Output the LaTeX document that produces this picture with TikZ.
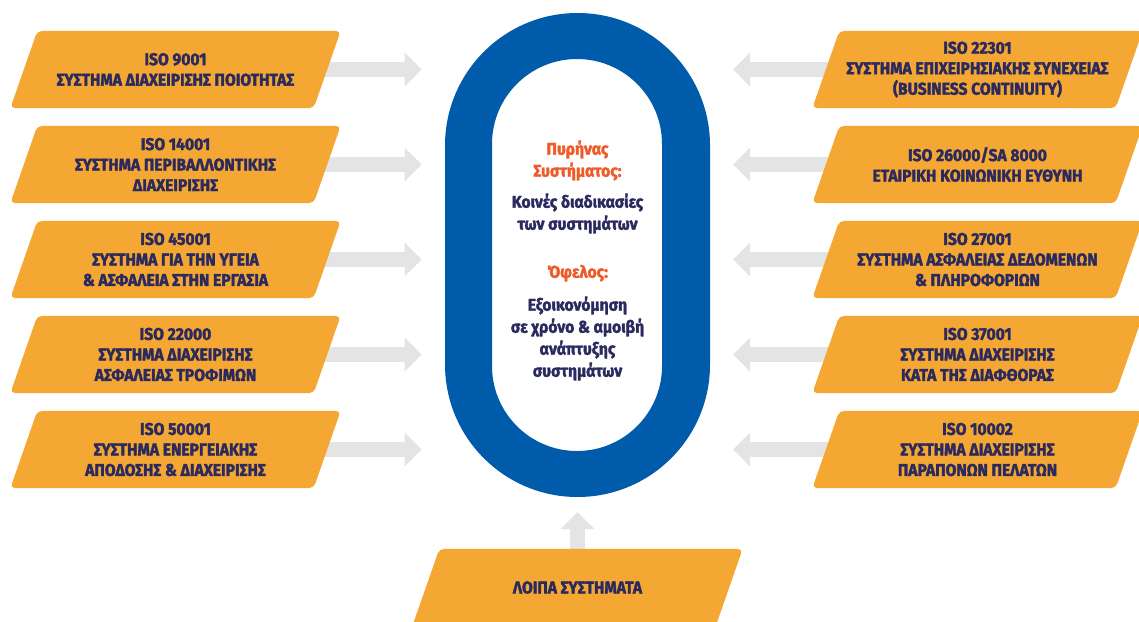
\documentclass[tikz,border=0pt]{standalone}
\usepackage{fontspec}
\setmainfont{Fira Sans}[FakeStretch=0.92, BoldFeatures={FakeBold=2}]
\usetikzlibrary{calc,arrows.meta,backgrounds}

\definecolor{boxorange}{HTML}{F5A733}
\definecolor{textnavy}{HTML}{2B2A5F}
\definecolor{ringblue}{HTML}{005BAA}
\definecolor{accentred}{HTML}{EE5A28}
\definecolor{arrowgray}{HTML}{E4E4E4}

\tikzset{
  isobox/.style={rectangle, minimum width=303pt, minimum height=77pt,
    inner sep=0pt, text=textnavy, align=center,
    font=\bfseries\fontsize{17}{20.5}\selectfont},
  boxfill/.style={fill=boxorange, rounded corners=5pt},
  feed/.style={draw=arrowgray, line width=14.6pt,
    -{Triangle[length=17pt, width=33pt]}}
}

\begin{document}
\begin{tikzpicture}[x=1pt, y=-1pt]
  \useasboundingbox (0,0) rectangle (1139,621);

  % Nodes with manual coordinates
  \node[isobox] (iso9001)  at (175.5,69.5)  {ISO 9001\\ΣΥΣΤΗΜΑ ΔΙΑΧΕΙΡΙΣΗΣ ΠΟΙΟΤΗΤΑΣ};
  \node[isobox] (iso14001) at (175.5,164.5) {ISO 14001\\ΣΥΣΤΗΜΑ ΠΕΡΙΒΑΛΛΟΝΤΙΚΗΣ\\ΔΙΑΧΕΙΡΙΣΗΣ};
  \node[isobox] (iso45001) at (175.5,259.5) {ISO 45001\\ΣΥΣΤΗΜΑ ΓΙΑ ΤΗΝ ΥΓΕΙΑ\\\& ΑΣΦΑΛΕΙΑ ΣΤΗΝ ΕΡΓΑΣΙΑ};
  \node[isobox] (iso22000) at (175.5,354.5) {ISO 22000\\ΣΥΣΤΗΜΑ ΔΙΑΧΕΙΡΙΣΗΣ\\ΑΣΦΑΛΕΙΑΣ ΤΡΟΦΙΜΩΝ};
  \node[isobox] (iso50001) at (175.5,449.5) {ISO 50001\\ΣΥΣΤΗΜΑ ΕΝΕΡΓΕΙΑΚΗΣ\\ΑΠΟΔΟΣΗΣ \& ΔΙΑΧΕΙΡΙΣΗΣ};

  \node[isobox] (iso22301) at (977.5,69.5)  {ISO 22301\\ΣΥΣΤΗΜΑ ΕΠΙΧΕΙΡΗΣΙΑΚΗΣ ΣΥΝΕΧΕΙΑΣ\\(BUSINESS CONTINUITY)};
  \node[isobox] (iso26000) at (977.5,164.5) {ISO 26000/SA 8000\\ΕΤΑΙΡΙΚΗ ΚΟΙΝΩΝΙΚΗ ΕΥΘΥΝΗ};
  \node[isobox] (iso27001) at (977.5,259.5) {ISO 27001\\ΣΥΣΤΗΜΑ ΑΣΦΑΛΕΙΑΣ ΔΕΔΟΜΕΝΩΝ\\\& ΠΛΗΡΟΦΟΡΙΩΝ};
  \node[isobox] (iso37001) at (977.5,354.5) {ISO 37001\\ΣΥΣΤΗΜΑ ΔΙΑΧΕΙΡΙΣΗΣ\\ΚΑΤΑ ΤΗΣ ΔΙΑΦΘΟΡΑΣ};
  \node[isobox] (iso10002) at (977.5,449.5) {ISO 10002\\ΣΥΣΤΗΜΑ ΔΙΑΧΕΙΡΙΣΗΣ\\ΠΑΡΑΠΟΝΩΝ ΠΕΛΑΤΩΝ};

  \node[isobox] (others) at (577.5,587.5) {ΛΟΙΠΑ ΣΥΣΤΗΜΑΤΑ};

  % Core ring
  \fill[ringblue, even odd rule]
    (445,13) [rounded corners=132.5pt] rectangle (710,497)
    (492,59) [rounded corners=85pt] rectangle (662,451);
  \node[align=center, text=textnavy, font=\bfseries\fontsize{17}{22}\selectfont] (core) at (577.5,260.5)
    {\textcolor{accentred}{Πυρήνας}\\\textcolor{accentred}{Συστήματος:}\\[9pt]
     Κοινές διαδικασίες\\των συστημάτων\\[26pt]
     \textcolor{accentred}{Όφελος:}\\[11pt]
     Εξοικονόμηση\\σε χρόνο \& αμοιβή\\ανάπτυξης\\συστημάτων};

  % Tips of the arrows
  \coordinate (tipA) at (421.7,69.5);
  \coordinate (tipB) at (421.7,164.5);
  \coordinate (tipC) at (421.7,259.5);
  \coordinate (tipD) at (421.7,354.5);
  \coordinate (tipE) at (421.7,449.5);
  \coordinate (tipF) at (733,69.5);
  \coordinate (tipG) at (733,164.5);
  \coordinate (tipH) at (733,259.5);
  \coordinate (tipI) at (733,354.5);
  \coordinate (tipJ) at (733,449.5);
  \coordinate (tipK) at (577.5,512);

  % Edges
  \begin{scope}[on background layer]
    \draw[feed] (iso9001.center) -- (tipA);
    \draw[feed] (iso14001.center) -- (tipB);
    \draw[feed] (iso45001.center) -- (tipC);
    \draw[feed] (iso22000.center) -- (tipD);
    \draw[feed] (iso50001.center) -- (tipE);
    \draw[feed] (iso22301.center) -- (tipF);
    \draw[feed] (iso26000.center) -- (tipG);
    \draw[feed] (iso27001.center) -- (tipH);
    \draw[feed] (iso37001.center) -- (tipI);
    \draw[feed] (iso10002.center) -- (tipJ);
    \draw[feed] (others.center) -- (tipK);
    % slanted box shapes
    \foreach \n in {iso9001,iso14001,iso45001,iso22000,iso50001,
                    iso22301,iso26000,iso27001,iso37001,iso10002,others}
      \fill[boxfill] ($(\n.south west)+(-13.5,0)$) -- ($(\n.north west)+(13.5,0)$)
        -- ($(\n.north east)+(13.5,0)$) -- ($(\n.south east)+(-13.5,0)$) -- cycle;
  \end{scope}
\end{tikzpicture}
\end{document}
